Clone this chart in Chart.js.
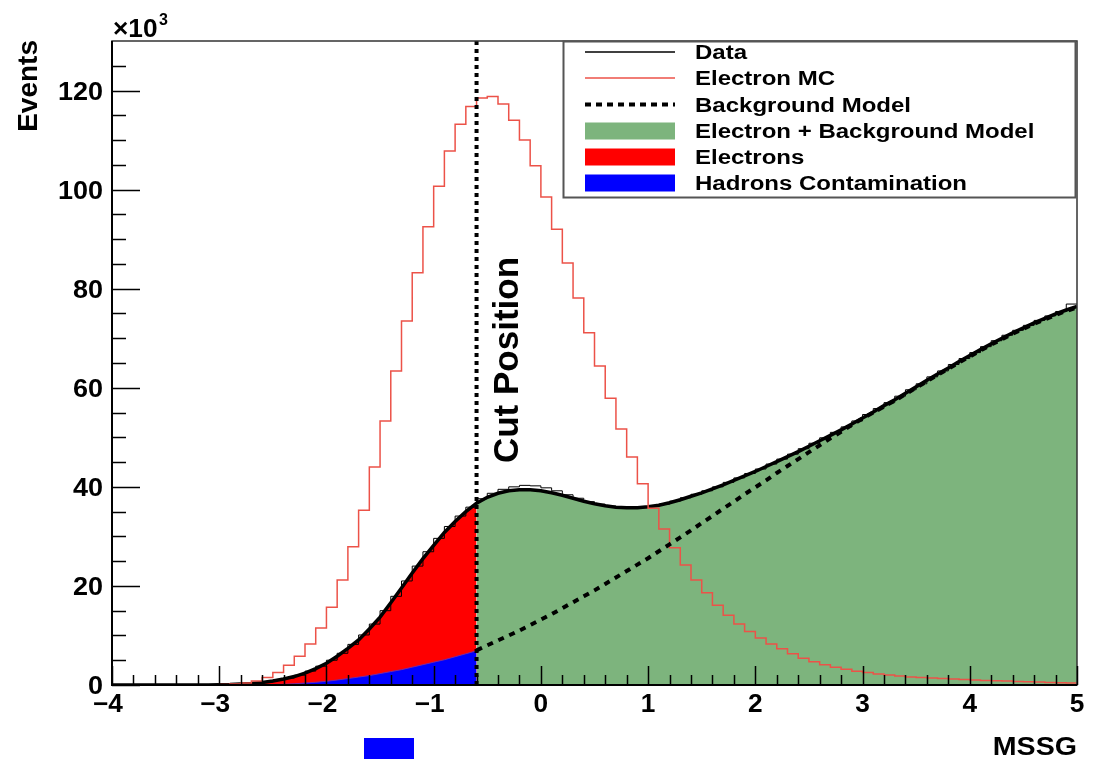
<!DOCTYPE html>
<html>
<head>
<meta charset="utf-8">
<script src="https://cdn.jsdelivr.net/npm/chart.js@4.4.1/dist/chart.umd.min.js"></script>
<style>
  html, body { margin: 0; padding: 0; background: #fff; }
  #wrap { width: 1093px; height: 759px; }
</style>
</head>
<body>
<div id="wrap"><canvas id="c"></canvas></div>
<script>
// MSSG histograms, 0.1 wide bins from -4 to 5, values in units of 10^3 events
const binStart = -4;
const binCount = 90;
const cutPosition = -0.6;

const electronMC = [
  0, 0, 0, 0, 0, 0, 0, 0, 0.02, 0.05,
  0.1, 0.2, 0.4, 0.8, 1.5, 2.5, 4.0, 5.8, 8.3, 11.5,
  15.7, 21.2, 27.9, 35.3, 44.0, 53.3, 63.4, 73.5, 83.2, 92.5,
  100.7, 107.8, 113.2, 116.8, 118.5, 118.8, 117.3, 114.0, 110.0, 104.8,
  98.5, 92.0, 85.2, 78.1, 71.1, 64.4, 57.9, 51.7, 46.0, 40.6,
  35.7, 31.5, 27.7, 24.2, 21.2, 18.6, 16.1, 14.1, 12.3, 10.8,
  9.5, 8.3, 7.3, 6.3, 5.4, 4.7, 4.1, 3.6, 3.2, 2.8,
  2.5, 2.2, 2.0, 1.8, 1.6, 1.5, 1.4, 1.3, 1.2, 1.1,
  1.0, 0.9, 0.85, 0.8, 0.7, 0.65, 0.6, 0.5, 0.45, 0.4
];

const dataCounts = [
  0, 0, 0, 0, 0, 0, 0, 0, 0, 0,
  0.05, 0.1, 0.2, 0.4, 0.6, 1.0, 1.4, 2.0, 2.8, 3.8,
  5.0, 6.4, 8.2, 10.1, 12.3, 15.0, 17.9, 21.0, 24.0, 26.9,
  29.6, 32.0, 34.1, 35.9, 37.6, 38.7, 39.5, 40.0, 40.3, 40.2,
  39.8, 39.2, 38.4, 37.7, 37.0, 36.5, 36.1, 35.8, 35.7, 35.8,
  36.1, 36.5, 37.1, 37.8, 38.5, 39.2, 40.0, 40.9, 41.8, 42.7,
  43.6, 44.6, 45.6, 46.6, 47.7, 48.8, 49.9, 51.0, 52.1, 53.3,
  54.6, 55.8, 57.0, 58.3, 59.6, 60.8, 62.2, 63.4, 64.7, 65.9,
  67.1, 68.3, 69.5, 70.6, 71.6, 72.6, 73.6, 74.5, 75.4, 76.9
];

// fit curves sampled every 0.1 from -4 to 5
const totalModel = [
  0, 0, 0, 0, 0, 0, 0, 0, 0, 0.02,
  0.05, 0.1, 0.2, 0.3, 0.5, 0.8, 1.2, 1.7, 2.4, 3.3,
  4.4, 5.8, 7.4, 9.1, 11.3, 13.7, 16.6, 19.6, 22.6, 25.5,
  28.2, 30.8, 33.0, 35.0, 36.7, 37.9, 38.7, 39.2, 39.4, 39.4,
  39.2, 38.8, 38.3, 37.7, 37.1, 36.6, 36.2, 35.9, 35.8, 35.8,
  36.0, 36.3, 36.8, 37.4, 38.1, 38.8, 39.6, 40.4, 41.3, 42.2,
  43.1, 44.1, 45.1, 46.1, 47.1, 48.2, 49.3, 50.4, 51.5, 52.7,
  53.9, 55.1, 56.4, 57.6, 58.9, 60.2, 61.5, 62.8, 64.0, 65.3,
  66.5, 67.7, 68.9, 70.0, 71.1, 72.1, 73.1, 74.0, 74.9, 75.7, 76.4
];

// background from the cut (-0.6) to 5
const backgroundModel = [
  7.0, 8.0, 9.0, 10.0, 11.0, 12.1,
  13.2, 14.3, 15.5, 16.7, 17.9, 19.1, 20.4, 21.7, 23.0, 24.3,
  25.6, 27.0, 28.4, 29.8, 31.2, 32.7, 34.1, 35.6, 37.0, 38.5,
  39.9, 41.3, 42.8, 44.2, 45.6, 47.0, 48.4, 49.8, 51.1, 52.5,
  53.8, 55.0, 56.2, 57.4, 58.7, 60.0, 61.3, 62.6, 63.8, 65.1,
  66.3, 67.5, 68.7, 69.8, 70.9, 71.9, 72.9, 73.8, 74.7, 75.5, 76.2
];

// background below the cut (hadron contamination), -4 to -0.6
const hadrons = [
  0, 0, 0, 0, 0, 0, 0, 0.01, 0.02, 0.03,
  0.04, 0.05, 0.06, 0.07, 0.08,
  0.1, 0.15, 0.25, 0.4, 0.55, 0.75, 1.0, 1.3, 1.6, 1.9,
  2.3, 2.7, 3.1, 3.6, 4.1, 4.6, 5.1, 5.7, 6.3, 6.9
];

const xTicks = [-4, -3, -2, -1, 0, 1, 2, 3, 4, 5];
const yTicks = [0, 20, 40, 60, 80, 100, 120];

const legendItems = ['Data', 'Electron MC', 'Background Model',
  'Electron + Background Model', 'Electrons', 'Hadrons Contamination'];

const GREEN = '#7db47d';
const MCRED = '#ec5248';

// helpers to turn the arrays into points
const gridX = i => Math.round(binStart * 10 + i) / 10;
function histPoints(vals) {
  const pts = vals.map((v, i) => ({ x: gridX(i), y: v }));
  pts.push({ x: gridX(vals.length), y: vals[vals.length - 1] });
  return pts;
}
const cutIdx = Math.round((cutPosition - binStart) * 10);
const totalPts = totalModel.map((v, i) => ({ x: gridX(i), y: v }));
const leftPts = totalPts.slice(0, cutIdx + 1);
const rightPts = totalPts.slice(cutIdx);
const bgPts = backgroundModel.map((v, i) => ({ x: gridX(cutIdx + i), y: v }));
const hadPts = hadrons.map((v, i) => ({ x: gridX(i), y: v }));

function txt(ctx, s, px, py, size, align, sx, rot) {
  ctx.save();
  ctx.translate(px, py);
  if (rot) ctx.rotate(rot);
  ctx.scale(sx || 1, 1);
  ctx.font = 'bold ' + size + 'px "Liberation Sans", Arial, sans-serif';
  ctx.textAlign = align;
  ctx.textBaseline = 'alphabetic';
  ctx.fillStyle = '#000';
  ctx.fillText(s, 0, 0);
  ctx.restore();
}

const overlay = {
  id: 'overlay',
  afterDraw(chart) {
    const { ctx, chartArea: a, scales: { x, y } } = chart;
    ctx.save();

    // frame
    ctx.strokeStyle = '#333';
    ctx.lineWidth = 1.5;
    ctx.strokeRect(a.left, a.top, a.right - a.left, a.bottom - a.top);
    ctx.strokeStyle = '#000';
    ctx.lineWidth = 2;
    ctx.beginPath();
    ctx.moveTo(a.left, a.top); ctx.lineTo(a.left, a.bottom); ctx.lineTo(a.right, a.bottom);
    ctx.stroke();

    // inward ticks
    ctx.lineWidth = 1.5;
    ctx.beginPath();
    for (let k = 0; k <= 45; k++) {
      const v = binStart + k * 0.2;
      const px = Math.round(x.getPixelForValue(v)) + 0.5;
      const len = k % 5 === 0 ? 19 : 10;
      ctx.moveTo(px, a.bottom); ctx.lineTo(px, a.bottom - len);
    }
    for (let k = 0; k <= 25; k++) {
      const v = k * 5;
      const py = Math.round(y.getPixelForValue(v)) + 0.5;
      const len = v % 20 === 0 ? 28 : 14;
      ctx.moveTo(a.left, py); ctx.lineTo(a.left + len, py);
    }
    ctx.stroke();

    // tick labels
    xTicks.forEach(v => {
      const s = v < 0 ? '\u2212' + Math.abs(v) : String(v);
      txt(ctx, s, x.getPixelForValue(v) - (v < 0 ? 4 : 0), a.bottom + 27, 25, 'center', 1.05);
    });
    yTicks.forEach(v => {
      txt(ctx, String(v), a.left - 9, y.getPixelForValue(v) + 9, 25, 'right', 1.08);
    });

    // axis titles
    txt(ctx, 'Events', 37, 40, 28, 'right', 1, -Math.PI / 2);
    txt(ctx, 'MSSG', a.right, 755, 26, 'right', 1.1);
    txt(ctx, '\u00d710', 113, 37, 25, 'left', 1.05);
    txt(ctx, '3', 159, 25, 16, 'left', 1);

    // cut label
    txt(ctx, 'Cut Position', x.getPixelForValue(cutPosition) + 41, 360, 35, 'center', 1, -Math.PI / 2);

    // legend
    const lx = 563, ly = 41, lw = 512, lh = 156;
    ctx.fillStyle = '#fff';
    ctx.fillRect(lx, ly, lw, lh);
    ctx.strokeStyle = '#555';
    ctx.lineWidth = 2;
    ctx.strokeRect(lx + 0.5, ly + 0.5, lw, lh);
    const rowY = [52, 78, 104.5, 131, 157, 183];
    const sx0 = 585, sx1 = 675;
    legendItems.forEach((label, i) => {
      const cy = rowY[i];
      if (i < 3) {
        ctx.beginPath();
        ctx.moveTo(sx0, cy); ctx.lineTo(sx1, cy);
        ctx.strokeStyle = i === 1 ? MCRED : '#000';
        ctx.lineWidth = i === 2 ? 4 : 1.5;
        ctx.setLineDash(i === 2 ? [6, 5] : []);
        ctx.stroke();
        ctx.setLineDash([]);
      } else {
        ctx.fillStyle = [GREEN, '#ff0000', '#0000ff'][i - 3];
        ctx.fillRect(sx0, cy - 8.5, sx1 - sx0, 17);
      }
      txt(ctx, label, 695, cy + 7, 20, 'left', 1.2);
    });

    // stray blue marker below the axis
    ctx.fillStyle = '#0000ff';
    ctx.fillRect(364, 738, 50, 21);

    ctx.restore();
  }
};

new Chart(document.getElementById('c'), {
  type: 'line',
  data: {
    datasets: [
      { label: 'Cut', data: [{ x: cutPosition, y: 0 }, { x: cutPosition, y: 130 }],
        borderColor: '#000', borderWidth: 4, borderDash: [4, 4], order: 0 },
      { label: 'Background Model', data: bgPts,
        borderColor: '#000', borderWidth: 4, borderDash: [6, 6], order: 1 },
      { label: 'Electron MC', data: histPoints(electronMC), stepped: 'before',
        borderColor: MCRED, borderWidth: 1.5, order: 2 },
      { label: 'Fit', data: totalPts,
        borderColor: '#000', borderWidth: 3.5, order: 3 },
      { label: 'Data', data: histPoints(dataCounts), stepped: 'before',
        borderColor: '#000', borderWidth: 1, order: 4 },
      { label: 'Hadrons Contamination', data: hadPts, fill: 'origin',
        backgroundColor: '#0000ff', borderColor: '#7a2aa0', borderWidth: 1, order: 5 },
      { label: 'Electrons', data: leftPts, fill: 'origin',
        backgroundColor: '#ff0000', borderWidth: 0, order: 6 },
      { label: 'Electron + Background Model', data: rightPts, fill: 'origin',
        backgroundColor: GREEN, borderWidth: 0, order: 7 }
    ]
  },
  options: {
    responsive: true,
    maintainAspectRatio: false,
    devicePixelRatio: 1,
    animation: false,
    layout: { padding: { left: 112, right: 16, top: 41, bottom: 74 } },
    elements: { point: { radius: 0 }, line: { tension: 0 } },
    plugins: { legend: { display: false }, tooltip: { enabled: false } },
    scales: {
      x: { type: 'linear', min: -4, max: 5, display: false },
      y: { type: 'linear', min: 0, max: 130, display: false }
    }
  },
  plugins: [overlay]
});
</script>
</body>
</html>
